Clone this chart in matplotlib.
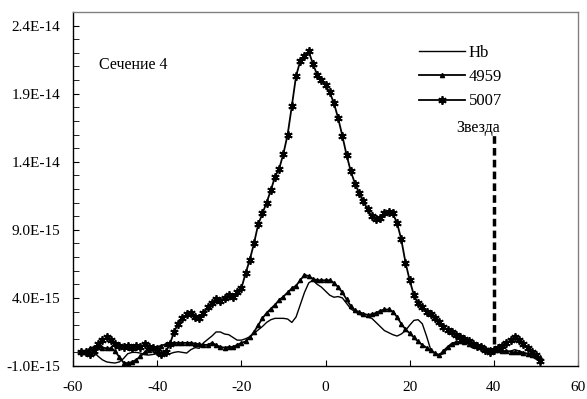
import numpy as np
import matplotlib
matplotlib.use("Agg")
import matplotlib.pyplot as plt
from matplotlib.ticker import FixedLocator, MultipleLocator, FuncFormatter

plt.rcParams['font.family'] = ['Liberation Serif', 'DejaVu Serif']
plt.rcParams['axes.unicode_minus'] = False

SCALE = 1e-15
x = list(range(-58, 52))

hb = [0.0, 0.0, 0.0, 0.0, -0.3, -0.55, -0.7, -0.75, -0.78, -0.7,
      -0.45, -0.1, 0.0, 0.0, -0.05, -0.15, -0.2, -0.15, -0.1, -0.15,
      -0.2, -0.1, 0.0, 0.05, 0.0, -0.05, 0.2, 0.35, 0.3, 0.7,
      0.95, 1.2, 1.5, 1.5, 1.35, 1.3, 1.1, 0.9, 0.9, 1.0,
      1.15, 1.4, 1.65, 1.9, 2.2, 2.4, 2.5, 2.5, 2.5, 2.45,
      2.2, 2.6, 3.5, 4.4, 5.1, 5.3, 5.0, 4.8, 4.5, 4.2,
      4.05, 4.1, 4.0, 3.6, 3.2, 3.0, 2.8, 2.7, 2.6, 2.5,
      2.2, 1.9, 1.6, 1.45, 1.3, 1.2, 1.35, 1.6, 2.0, 2.35,
      2.4, 2.1, 1.2, 0.2, -0.1, -0.2, -0.1, 0.3, 0.6, 0.75,
      0.8, 0.75, 0.6, 0.5, 0.4, 0.35, 0.3, 0.2, 0.15, 0.1,
      0.1, 0.05, 0.1, 0.2, 0.1, 0.0, -0.1, -0.2, -0.3, -0.4]

l4959 = [0.0, 0.0, 0.3, 0.4, 0.4, 0.35, 0.3, 0.3, 0.1, -0.35,
         -0.75, -0.8, -0.7, -0.55, -0.3, 0.0, 0.2, 0.3, 0.4, 0.5,
         0.6, 0.7, 0.7, 0.7, 0.7, 0.7, 0.7, 0.65, 0.6, 0.55,
         0.55, 0.7, 0.55, 0.4, 0.35, 0.4, 0.4, 0.55, 0.7, 0.8,
         1.1, 1.5, 2.0, 2.5, 2.9, 3.2, 3.5, 3.85, 4.1, 4.4,
         4.7, 4.9, 5.3, 5.7, 5.6, 5.4, 5.3, 5.3, 5.3, 5.3,
         5.1, 4.8, 4.4, 3.9, 3.4, 3.1, 2.95, 2.85, 2.75, 2.8,
         2.9, 3.05, 3.15, 3.15, 3.0, 2.6, 2.1, 1.7, 1.4, 1.1,
         0.8, 0.55, 0.35, 0.15, -0.05, -0.2, 0.1, 0.4, 0.65, 0.75,
         0.8, 0.75, 0.65, 0.55, 0.45, 0.4, 0.3, 0.25, 0.2, 0.15,
         0.1, 0.1, 0.05, 0.0, 0.0, -0.05, -0.1, -0.2, -0.25, -0.35]

l5007 = [0.0, 0.0, -0.1, 0.1, 0.6, 0.9, 1.1, 0.9, 0.6, 0.5,
         0.4, 0.5, 0.3, 0.5, 0.4, 0.6, 0.4, 0.3, 0.1, -0.1,
         0.0, 0.6, 1.5, 2.1, 2.5, 2.8, 2.9, 2.6, 2.5, 2.9,
         3.3, 3.6, 3.9, 3.8, 4.0, 4.2, 4.1, 4.4, 4.7, 5.8,
         6.8, 8.0, 9.4, 10.2, 11.0, 11.9, 12.9, 13.5, 14.6, 16.0,
         18.1, 20.3, 21.4, 21.8, 22.1, 21.2, 20.4, 20.0, 19.6, 19.1,
         18.3, 17.2, 15.9, 14.5, 13.3, 12.4, 11.7, 11.1, 10.5, 10.0,
         9.8, 9.9, 10.2, 10.3, 10.2, 9.5, 8.3, 6.6, 5.3, 4.2,
         3.6, 3.3, 3.0, 2.8, 2.5, 2.2, 1.9, 1.65, 1.5, 1.3,
         1.1, 0.95, 0.8, 0.65, 0.5, 0.4, 0.2, 0.05, 0.2, 0.3,
         0.5, 0.7, 0.9, 1.1, 0.9, 0.6, 0.3, 0.0, -0.2, -0.6]

series_labels = ["Hb", "4959", "5007"]
star_x = 40
star_y = [0.6, 16.0]
yticks = [-1.0, 4.0, 9.0, 14.0, 19.0, 24.0]

fig = plt.figure(figsize=(5.87, 3.99), dpi=100)
ax = fig.add_axes([0.1244, 0.0827, 0.8603, 0.8873])

xa = np.array(x)
ax.plot(xa, np.array(hb) * SCALE, color='black', lw=1.0, label=series_labels[0])
ax.plot(xa, np.array(l4959) * SCALE, color='black', lw=1.3, marker='^',
        ms=3, label=series_labels[1])
ax.plot(xa, np.array(l5007) * SCALE, color='black', lw=1.3, marker=(6, 2, 0),
        ms=6, mew=1.3, label=series_labels[2])

ax.plot([star_x, star_x], np.array(star_y) * SCALE, color='black', lw=2.5,
        dashes=(2.2, 1.2))
ax.text(36.3, 15.9 * SCALE, "Звезда", ha='center', va='bottom', fontsize=11.5)
ax.text(-53.8, 21.1 * SCALE, "Сечение 4", ha='left', va='center', fontsize=11.5)

ax.set_xlim(-60, 60)
ax.set_ylim(-1e-15, 2.5e-14)
ax.xaxis.set_major_locator(MultipleLocator(20))
ax.yaxis.set_major_locator(FixedLocator([v * SCALE for v in yticks]))
ax.yaxis.set_minor_locator(MultipleLocator(1e-15))
ax.yaxis.set_major_formatter(FuncFormatter(lambda v, p: "%.1E" % v))
ax.tick_params(axis='both', which='both', direction='in', labelsize=11)
ax.tick_params(axis='both', which='major', length=4)
ax.tick_params(axis='y', which='minor', length=4)
ax.tick_params(axis='x', pad=11)
ax.tick_params(axis='y', pad=9)

for s in ['left', 'bottom']:
    ax.spines[s].set_color('black')
    ax.spines[s].set_linewidth(1.0)
for s in ['top', 'right']:
    ax.spines[s].set_color('#808080')
    ax.spines[s].set_linewidth(1.0)

ax.legend(loc='upper left', bbox_to_anchor=(0.655, 0.95), frameon=False,
          fontsize=12, handlelength=2.8, handletextpad=0.2, labelspacing=0.5)

fig.savefig("out.png", dpi=100)
